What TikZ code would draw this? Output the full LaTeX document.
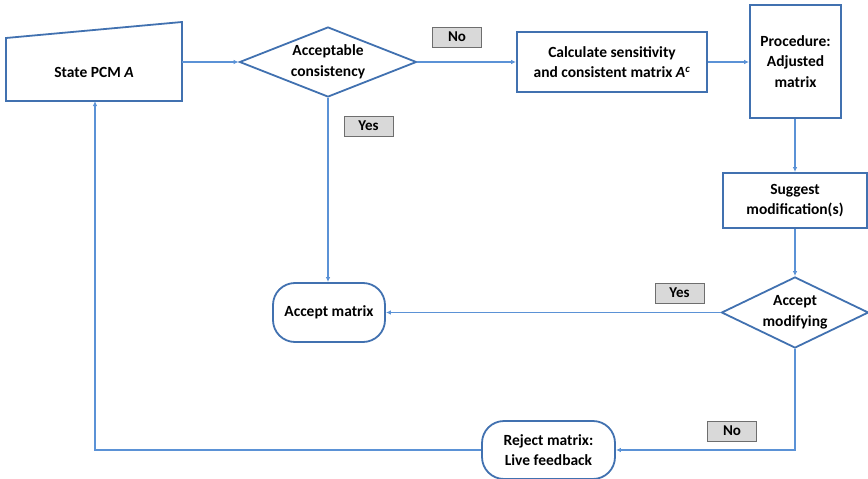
\documentclass[tikz,border=0pt]{standalone}
\usepackage{fontspec}
\setmainfont{Carlito}
\usetikzlibrary{shapes.geometric,arrows.meta}
\definecolor{bord}{RGB}{65,113,176}
\definecolor{lin}{RGB}{91,146,214}
\definecolor{labfill}{RGB}{217,217,217}
\definecolor{labdraw}{RGB}{110,110,110}
\begin{document}
\begin{tikzpicture}[x=1pt,y=-1pt,
  font=\bfseries\fontsize{15.5}{20.5}\selectfont,
  box/.style={draw=bord, line width=1.8pt, fill=white, align=center, inner sep=0pt},
  dia/.style={box, diamond},
  rbox/.style={box, rounded corners=22pt},
  txt/.style={align=center, inner sep=0pt},
  lab/.style={draw=labdraw, line width=1pt, fill=labfill, minimum width=49pt, minimum height=20pt, inner sep=0pt, font=\bfseries\fontsize{15}{17}\selectfont},
  arr/.style={draw=lin, line width=1.4pt, -{Latex[length=5pt,width=4.5pt]}}
]
\useasboundingbox (0,0) rectangle (868,479);
% State PCM trapezoid
\draw[draw=bord, line width=1.8pt, fill=white] (6,38) -- (182,22) -- (182,101) -- (6,101) -- cycle;
\node[txt] (pcm) at (94,72) {State PCM \textit{A}};
\coordinate (pcmE) at (182,62);
\coordinate (pcmS) at (95,101);
% nodes
\node[dia, minimum width=177pt, minimum height=70pt] (d1) at (328,62) {};
\node[txt] (d1t) at (d1.center) {Acceptable\\consistency};
\node[box, minimum width=190pt, minimum height=60pt] (calc) at (612,62) {Calculate sensitivity\\and consistent matrix \textit{A}\textsuperscript{\textit{c}}};
\node[box, minimum width=91pt, minimum height=113pt] (proc) at (795.5,61.5) {Procedure:\\Adjusted\\matrix};
\node[box, minimum width=144pt, minimum height=55pt] (sugg) at (795,200.5) {Suggest\\modification(s)};
\node[dia, minimum width=147pt, minimum height=71pt] (d2) at (795,312.5) {};
\node[txt] (d2t) at (d2.center) {Accept\\modifying};
\node[rbox, minimum width=112pt, minimum height=59pt] (acc) at (329,312.5) {Accept matrix};
\node[rbox, minimum width=133pt, minimum height=58pt] (rej) at (548.5,450) {Reject matrix:\\Live feedback};
% labels
\node[lab] (no1) at (457,37) {No};
\node[lab] (yes1) at (368.5,126) {Yes};
\node[lab] (yes2) at (679.5,293) {Yes};
\node[lab] (no2) at (732,431) {No};
% connectors
\draw[arr] (pcmE) -- (d1.west);
\draw[arr] (d1.east) -- (calc.west);
\draw[arr] (calc.east) -- (calc.east -| proc.west);
\draw[arr] (proc.south -| sugg.north) -- (sugg.north);
\draw[arr] (sugg.south) -- (d2.north);
\draw[arr] (d2.west) -- (acc.east);
\draw[arr] (d1.south) -- (d1.south |- acc.north);
\draw[arr] (d2.south) |- (rej.east);
\draw[arr] (rej.west) -| (pcmS);
\end{tikzpicture}
\end{document}
